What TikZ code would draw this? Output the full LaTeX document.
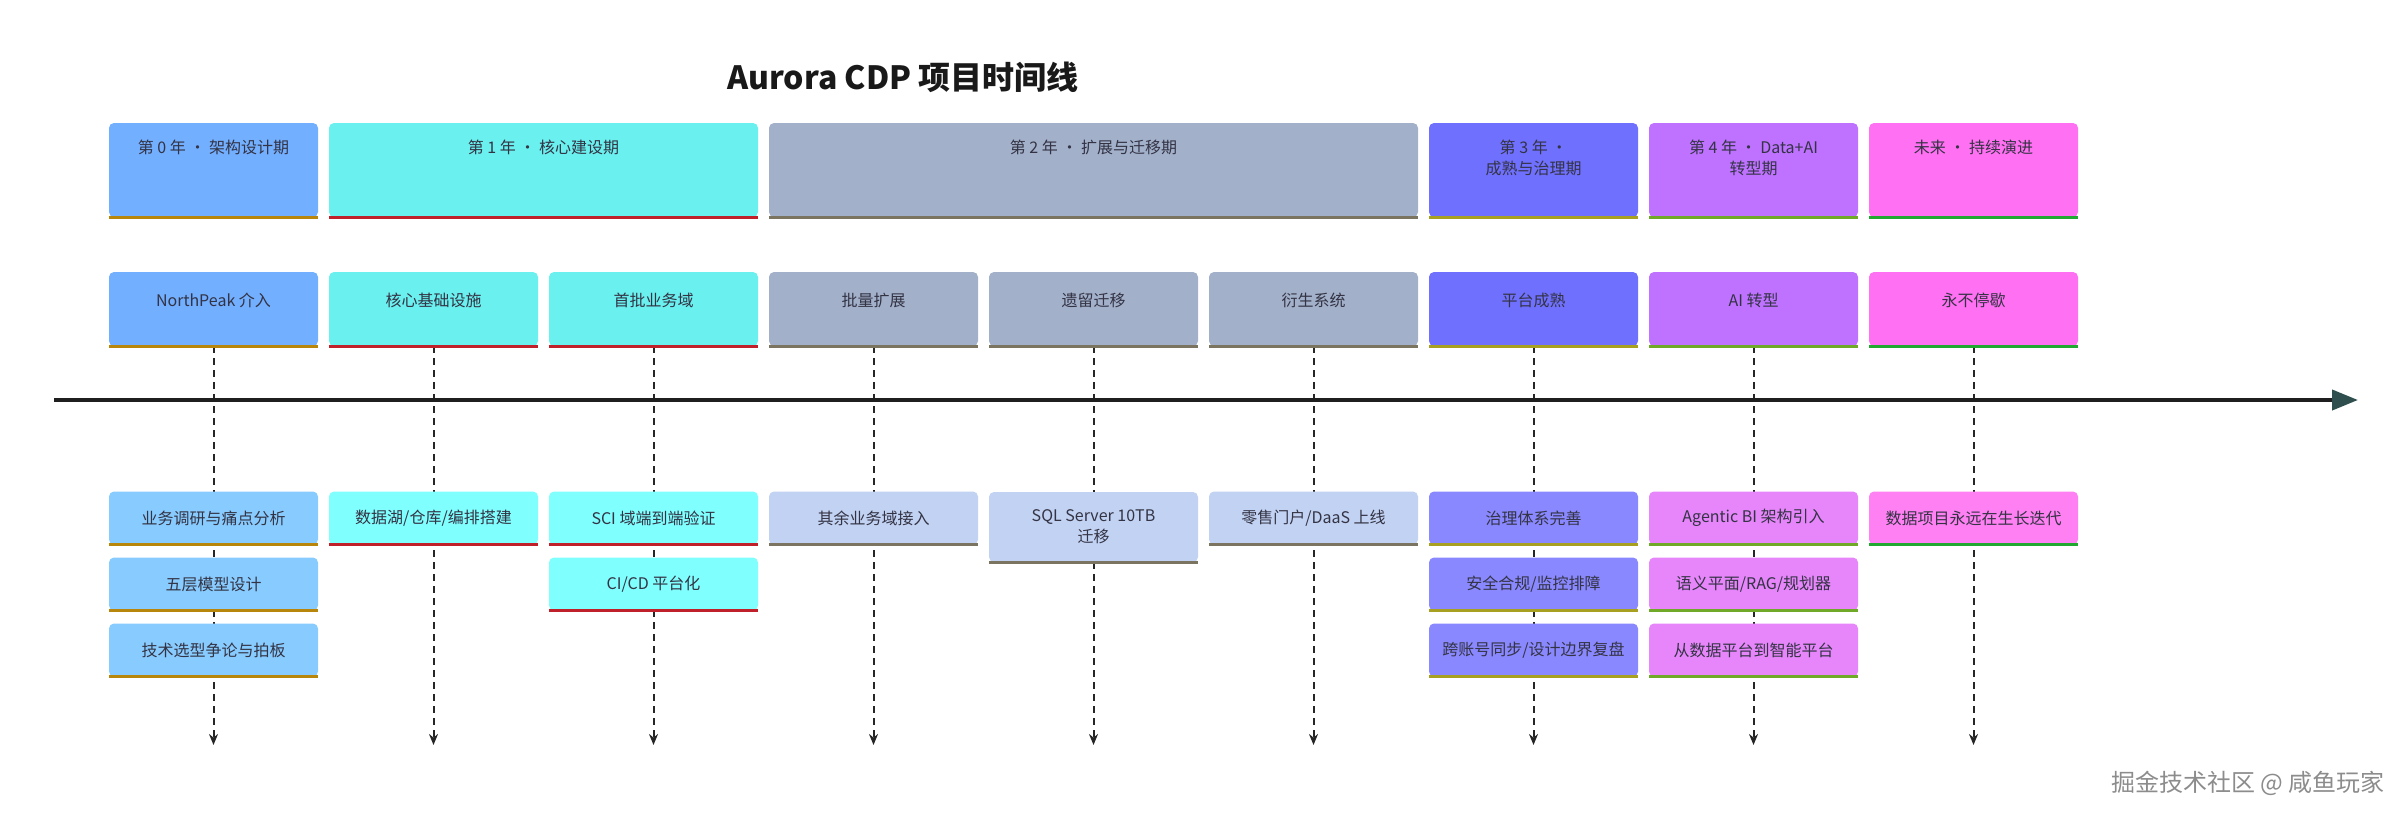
\documentclass[tikz,border=0pt]{standalone}
\usepackage{fontspec}
\setmainfont{Noto Sans CJK SC}
\usetikzlibrary{arrows.meta,backgrounds}
\definecolor{p0}{HTML}{72AFFF}\definecolor{t0}{HTML}{88CCFF}\definecolor{b0}{HTML}{B8860B}
\definecolor{p1}{HTML}{6AF0EE}\definecolor{t1}{HTML}{80FFFF}\definecolor{b1}{HTML}{C0202A}
\definecolor{p2}{HTML}{A2B0CA}\definecolor{t2}{HTML}{C2D2F2}\definecolor{b2}{HTML}{7A7460}
\definecolor{p3}{HTML}{7070FF}\definecolor{t3}{HTML}{8A88FF}\definecolor{b3}{HTML}{A8A020}
\definecolor{p4}{HTML}{BF72FF}\definecolor{t4}{HTML}{E686FA}\definecolor{b4}{HTML}{70A828}
\definecolor{p5}{HTML}{FF70F2}\definecolor{t5}{HTML}{FF80F2}\definecolor{b5}{HTML}{20A830}
\definecolor{txt}{HTML}{333344}
\definecolor{axhead}{HTML}{2F4F4F}
\begin{document}
\begin{tikzpicture}[x=1pt,y=-1pt,
  box/.style={draw=none,rounded corners=5pt,inner sep=0pt,text=txt,font=\fontsize{16}{21}\selectfont,align=center},
  sec/.style={box,minimum width=209pt,minimum height=74pt},
  task/.style={box,minimum width=209pt,minimum height=53pt},
  bar/.style={line width=3pt},
  vline/.style={dash pattern=on 7pt off 5pt,line width=2pt,black!85,-{Stealth[length=11pt,width=9pt]}},
  toplab/.style={anchor=north,yshift=-14pt,text=txt,font=\fontsize{16}{21}\selectfont,align=center}]
\useasboundingbox (0,0) rectangle (2408,820);
\node[font=\fontsize{32}{38}\selectfont\bfseries,text=black!90] (title) at (903,77) {Aurora CDP 项目时间线};
% periods
\node[box,minimum width=209pt,minimum height=94pt,fill=p0,label={[toplab]north:第 0 年 · 架构设计期}] (P0) at (213.5,170) {};
\node[box,minimum width=429pt,minimum height=94pt,fill=p1,label={[toplab]north:第 1 年 · 核心建设期}] (P1) at (543.5,170) {};
\node[box,minimum width=649pt,minimum height=94pt,fill=p2,label={[toplab]north:第 2 年 · 扩展与迁移期}] (P2) at (1093.5,170) {};
\node[box,minimum width=209pt,minimum height=94pt,fill=p3,label={[toplab]north:第 3 年 ·\\成熟与治理期}] (P3) at (1533.5,170) {};
\node[box,minimum width=209pt,minimum height=94pt,fill=p4,label={[toplab]north:第 4 年 · Data+AI\\转型期}] (P4) at (1753.5,170) {};
\node[box,minimum width=209pt,minimum height=94pt,fill=p5,label={[toplab]north:未来 · 持续演进}] (P5) at (1973.5,170) {};
\foreach \n/\c in {P0/b0,P1/b1,P2/b2,P3/b3,P4/b4,P5/b5} \draw[bar,\c] (\n.south west)--(\n.south east);
% sections
\foreach \i/\t/\f/\c in {0/NorthPeak 介入/p0/b0,1/核心基础设施/p1/b1,2/首批业务域/p1/b1,3/批量扩展/p2/b2,4/遗留迁移/p2/b2,5/衍生系统/p2/b2,6/平台成熟/p3/b3,7/AI 转型/p4/b4,8/永不停歇/p5/b5}{
  \node[sec,fill=\f,label={[toplab,yshift=-4pt]north:\t}] (S\i) at ({213.5+220*\i},309) {};
  \draw[bar,\c] (S\i.south west)--(S\i.south east);
  \coordinate (E\i) at ({213.5+220*\i},745);
}
% tasks
\newcommand\tk[5]{\node[task,fill=#3] (#1) at (#2) {#5};\draw[bar,#4] (#1.south west)--(#1.south east);}
\tk{T0a}{213.5,518}{t0}{b0}{业务调研与痛点分析}
\tk{T0b}{213.5,584}{t0}{b0}{五层模型设计}
\tk{T0c}{213.5,650}{t0}{b0}{技术选型争论与拍板}
\tk{T1a}{433.5,518}{t1}{b1}{数据湖/仓库/编排搭建}
\tk{T2a}{653.5,518}{t1}{b1}{SCI 域端到端验证}
\tk{T2b}{653.5,584}{t1}{b1}{CI/CD 平台化}
\tk{T3a}{873.5,518}{t2}{b2}{其余业务域接入}
\node[task,fill=t2,minimum height=70pt] (T4a) at (1093.5,527) {SQL Server 10TB\\迁移};\draw[bar,b2] (T4a.south west)--(T4a.south east);
\tk{T5a}{1313.5,518}{t2}{b2}{零售门户/DaaS 上线}
\tk{T6a}{1533.5,518}{t3}{b3}{治理体系完善}
\tk{T6b}{1533.5,584}{t3}{b3}{安全合规/监控排障}
\tk{T6c}{1533.5,650}{t3}{b3}{跨账号同步/设计边界复盘}
\tk{T7a}{1753.5,518}{t4}{b4}{Agentic BI 架构引入}
\tk{T7b}{1753.5,584}{t4}{b4}{语义平面/RAG/规划器}
\tk{T7c}{1753.5,650}{t4}{b4}{从数据平台到智能平台}
\tk{T8a}{1973.5,518}{t5}{b5}{数据项目永远在生长迭代}
% axis
\coordinate (A0) at (54,400); \coordinate (A1) at (2358,400);
\begin{scope}[on background layer]
\foreach \i in {0,...,8} \draw[vline] (S\i.south)--(E\i);
\end{scope}
\draw[line width=4pt,black!88,-{Triangle[length=26pt,width=20pt,color=axhead]}] (A0)--(A1);
\node[font=\fontsize{24}{28}\selectfont,text=black!45,anchor=east] (wm) at (2388,783) {掘金技术社区 @ 咸鱼玩家};
\end{tikzpicture}
\end{document}
